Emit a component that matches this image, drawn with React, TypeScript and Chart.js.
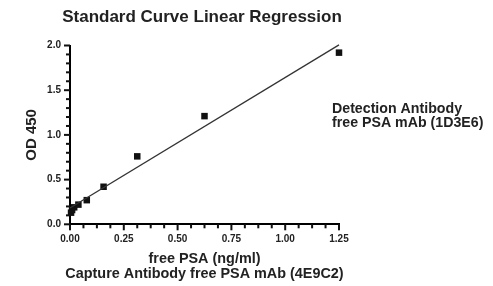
import React, { useEffect, useRef } from "react";
import { Chart, registerables } from "chart.js";

Chart.register(...registerables);

const concentrations = [0.0049, 0.0098, 0.0195, 0.039, 0.078, 0.156, 0.3125, 0.625, 1.25];
const odValues = [0.13, 0.16, 0.19, 0.22, 0.27, 0.42, 0.76, 1.21, 1.92];
const xTickLabels = ["0.00", "0.25", "0.50", "0.75", "1.00", "1.25"];
const yTickLabels = ["0.0", "0.5", "1.0", "1.5", "2.0"];
const chartTitle = "Standard Curve Linear Regression";
const xTitle = "free PSA (ng/ml)";
const xSubTitle = "Capture Antibody free PSA mAb (4E9C2)";
const yTitle = "OD 450";
const noteLines = ["Detection Antibody", "free PSA mAb (1D3E6)"];

function linearFit(xs: number[], ys: number[]) {
  const n = xs.length;
  const mx = xs.reduce((a, b) => a + b, 0) / n;
  const my = ys.reduce((a, b) => a + b, 0) / n;
  let sxy = 0, sxx = 0;
  for (let i = 0; i < n; i++) {
    sxy += (xs[i] - mx) * (ys[i] - my);
    sxx += (xs[i] - mx) * (xs[i] - mx);
  }
  const slope = sxy / sxx;
  return { slope, intercept: my - slope * mx };
}

const FONT = '"Liberation Sans", Arial, sans-serif';
const TEXT = "#222";
const X_MINOR = 0.0625;
const Y_MINOR = 0.1;

export default function App() {
  const ref = useRef<HTMLCanvasElement | null>(null);

  useEffect(() => {
    document.body.style.margin = "0";
    const canvas = ref.current!;
    const fit = linearFit(concentrations, odValues);
    const xMin = 0;
    const xMax = 1.25;
    const yMin = 0;
    const yMax = 2;
    const linePts = [
      { x: xMin, y: fit.intercept + fit.slope * xMin },
      { x: xMax, y: fit.intercept + fit.slope * xMax },
    ];

    const isMajor = (v: number, step: number) => Math.abs(v / step - Math.round(v / step)) < 1e-6;

    const overlayPlugin = {
      id: "overlay",
      afterDraw(chart: any) {
        const ctx = chart.ctx;
        const xs = chart.scales.x;
        const ys = chart.scales.y;
        const axisY = ys.bottom;
        const axisX = xs.left;
        ctx.save();
        ctx.fillStyle = "#111";
        const nx = Math.round((xMax - xMin) / X_MINOR);
        for (let i = 0; i <= nx; i++) {
          const v = xMin + i * X_MINOR;
          const px = xs.getPixelForValue(v);
          const len = isMajor(v, 0.25) ? 6 : 4;
          ctx.fillRect(px - 1, axisY, 2, len);
        }
        const ny = Math.round((yMax - yMin) / Y_MINOR);
        for (let i = 0; i <= ny; i++) {
          const v = yMin + i * Y_MINOR;
          const py = ys.getPixelForValue(v);
          const len = isMajor(v, 0.5) ? 6 : 4;
          ctx.fillRect(axisX - len, py - 1, len, 2);
        }
        ctx.restore();

        ctx.save();
        ctx.fillStyle = TEXT;
        ctx.textAlign = "center";
        ctx.textBaseline = "middle";
        ctx.font = `bold 17px ${FONT}`;
        ctx.fillText(chartTitle, 202, 17);
        ctx.font = `bold 14.4px ${FONT}`;
        const cx = (xs.left + xs.right) / 2;
        ctx.fillText(xTitle, cx, 259);
        ctx.fillText(xSubTitle, cx, 274);
        ctx.font = `bold 14.2px ${FONT}`;
        ctx.textAlign = "left";
        ctx.fillText(noteLines[0], 332, 109);
        ctx.fillText(noteLines[1], 332, 123);
        ctx.translate(32, (ys.top + ys.bottom) / 2);
        ctx.rotate(-Math.PI / 2);
        ctx.textAlign = "center";
        ctx.font = `bold 15px ${FONT}`;
        ctx.fillText(yTitle, 0, 0);
        ctx.restore();
      },
    };

    const chart = new Chart(canvas, {
      type: "scatter",
      data: {
        datasets: [
          {
            label: "fit",
            type: "line",
            data: linePts,
            borderColor: "#333",
            borderWidth: 1.3,
            pointRadius: 0,
            fill: false,
            clip: false,
          } as any,
          {
            label: "data",
            data: concentrations.map((x, i) => ({ x, y: odValues[i] })),
            backgroundColor: "#111",
            borderColor: "#111",
            pointStyle: "rect",
            pointRadius: 4.6,
            borderWidth: 0,
            clip: false,
          } as any,
        ],
      },
      plugins: [overlayPlugin],
      options: {
        responsive: false,
        animation: false,
        layout: { padding: { left: 0, right: 154, top: 45.5, bottom: 0 } },
        plugins: {
          legend: { display: false },
          tooltip: { enabled: false },
          title: { display: false },
        },
        scales: {
          x: {
            type: "linear",
            min: xMin,
            max: xMax,
            grid: { display: false, drawTicks: false },
            border: { display: true, color: "#000", width: 2 },
            afterFit: (s: any) => { s.height = 61.7; },
            ticks: {
              stepSize: 0.25,
              autoSkip: false,
              maxRotation: 0,
              padding: 9,
              color: TEXT,
              font: { family: FONT, size: 10, weight: "bold" },
              callback: (v: any) => xTickLabels[Math.round(Number(v) / 0.25)],
            },
          },
          y: {
            type: "linear",
            min: yMin,
            max: yMax,
            grid: { display: false, drawTicks: false },
            border: { display: true, color: "#000", width: 2 },
            afterFit: (s: any) => { s.width = 70; },
            ticks: {
              stepSize: 0.5,
              autoSkip: false,
              padding: 9,
              color: TEXT,
              font: { family: FONT, size: 10, weight: "bold" },
              callback: (v: any) => yTickLabels[Math.round(Number(v) / 0.5)],
            },
          },
        },
      },
    });
    return () => chart.destroy();
  }, []);

  return (
    <div style={{ width: 493, height: 286, background: "#fff" }}>
      <canvas ref={ref} width={493} height={286} style={{ display: "block" }} />
    </div>
  );
}
